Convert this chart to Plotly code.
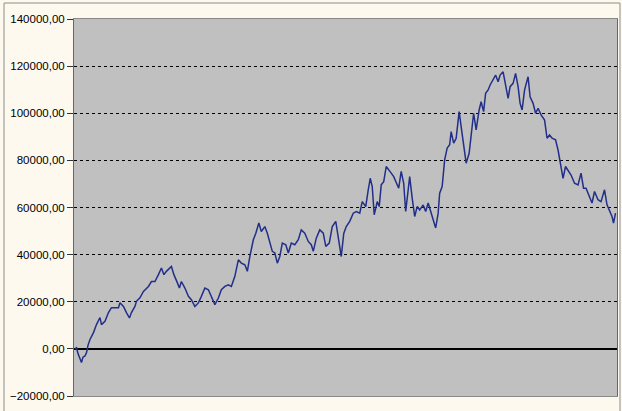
import plotly.graph_objects as go

# ---------------------------- Data ---------------------------- #

# trade number (horizontal position) for each sampled point of the equity curve
trades = [0, 3, 6, 10, 13, 16, 20, 23, 26, 30,
          37, 43, 50, 53, 60, 67, 73, 80, 87, 90,
          97, 103, 109, 113, 120, 123, 130, 137, 147, 153,
          160, 167, 173, 178, 183, 193, 198, 205, 209, 213,
          220, 227, 233, 240, 247, 253, 260, 267, 273, 280,
          287, 293, 300, 307, 313, 320, 327, 333, 340, 345,
          350, 357, 362, 368, 373, 380, 385, 390, 395, 400,
          405, 410, 415, 422, 427, 433, 440, 447, 453, 460,
          467, 473, 477, 483, 490, 497, 502, 509, 515, 522,
          527, 533, 538, 543, 550, 557, 563, 570, 575, 582,
          587, 591, 595, 599, 605, 609, 613, 618, 623, 629,
          633, 638, 643, 648, 653, 658, 662, 667, 670, 675,
          680, 685, 690, 697, 702, 707, 711, 717, 722, 727,
          730, 735, 740, 745, 750, 753, 758, 763, 769, 773,
          778, 783, 789, 793, 798, 803, 809, 813, 818, 822,
          827, 831, 837, 842, 847, 851, 857, 862, 867, 871,
          877, 882, 887, 891, 895, 900, 907, 911, 917, 922,
          927, 933, 940, 945, 950, 955, 962, 967, 971, 977,
          982, 987, 993, 1000, 1007, 1013, 1018, 1023, 1029, 1035,
          1040, 1047, 1053, 1060, 1065, 1070, 1075, 1078, 1082]

# cumulative equity
equity = [0, 500, -2000, -4500, -5800, -3500, -3000, -1600, 1500, 4000, 6900, 10300,
          13300, 10300, 11700, 15400, 17500, 17500, 17500, 19600, 18000, 15400, 13100,
          15400, 18000, 20200, 21700, 24400, 26500, 28600, 28600, 31500, 34300, 31500,
          32900, 35000, 31500, 28000, 25800, 28600, 25800, 22300, 20900, 18000, 19500,
          22300, 25800, 25100, 22300, 18800, 21600, 25100, 26500, 27200, 26500, 30800,
          37800, 36400, 35700, 32900, 39200, 46300, 49100, 53400, 49800, 51900, 49100,
          45600, 41400, 40700, 36400, 39200, 44900, 44200, 40700, 44900, 44200, 46300,
          50500, 49100, 45600, 44200, 41400, 47000, 50500, 49100, 43500, 44900, 51900,
          54100, 47700, 39200, 49000, 51900, 54100, 57600, 58300, 57600, 62500, 60400,
          67500, 72400, 68900, 56900, 62500, 60400, 69600, 71000, 77400, 76000, 74600,
          73100, 70300, 68200, 75300, 70300, 58300, 66800, 73100, 64000, 56200, 60400,
          59000, 61100, 58300, 61900, 59000, 54800, 51300, 57600, 66100, 68900, 80200,
          85200, 86600, 92200, 87300, 89400, 100700, 94300, 85200, 78800, 83000, 90100,
          100000, 92900, 101400, 104900, 100700, 108500, 109900, 112000, 114100, 116200,
          113400, 116200, 117600, 112700, 106300, 111300, 112700, 116900, 111300, 104200,
          101400, 109900, 115500, 107000, 104200, 100000, 102100, 99300, 97100, 89400,
          90800, 89400, 88700, 84400, 80200, 72400, 77400, 76000, 73800, 70300, 69600,
          74600, 68200, 68200, 65400, 61900, 66800, 63300, 62500, 67500, 61100, 58300,
          56200, 53400, 57600]

y_ticks = [-20000, 0, 20000, 40000, 60000, 80000, 100000, 120000, 140000]

BG = '#fdf9ef'

# ---------------------------- Build the figure ---------------------------- #

fig = go.Figure()
fig.add_trace(go.Scatter(
    x=trades,
    y=equity,
    mode='lines',
    line=dict(color='#222f88', width=1.5),
    showlegend=False
))

fig.update_layout(
    width=622,
    height=411,
    margin=dict(l=74, r=5, t=19, b=15, autoexpand=False),
    paper_bgcolor=BG,
    plot_bgcolor='#c0c0c0',
    separators=',.',
    font=dict(family='Liberation Sans, Arial, sans-serif', size=11.5, color='#000000'),
)

fig.update_xaxes(
    range=[-2, 1085],
    showticklabels=False,
    ticks='',
    showgrid=False,
    zeroline=False,
    showline=True,
    linecolor='#8a8a8a',
    linewidth=1,
    mirror=True,
    automargin=False,
)

fig.update_yaxes(
    range=[-20000, 140000],
    tickvals=y_ticks,
    tickformat='.2f',
    ticks='outside',
    ticklen=6,
    tickcolor='#333333',
    showgrid=True,
    gridcolor='#000000',
    gridwidth=1,
    griddash='dot',
    zeroline=True,
    zerolinecolor='#000000',
    zerolinewidth=2,
    showline=True,
    linecolor='#666666',
    linewidth=1,
    mirror=True,
    automargin=False,
)

# thin frame round the whole chart object (left, top, right edges)
fig.add_shape(type='rect', xref='paper', yref='paper',
              x0=-0.1289, x1=1.0055, y0=-0.12, y1=1.0424,
              line=dict(color='#8c8c8c', width=1), fillcolor='rgba(0,0,0,0)', layer='below')

# drop the page's default body margin so the chart sits at the window's corner
fig.write_html("out.html",
               config={'displayModeBar': False},
               post_script=f"document.body.style.margin='0';document.body.style.background='{BG}';")
